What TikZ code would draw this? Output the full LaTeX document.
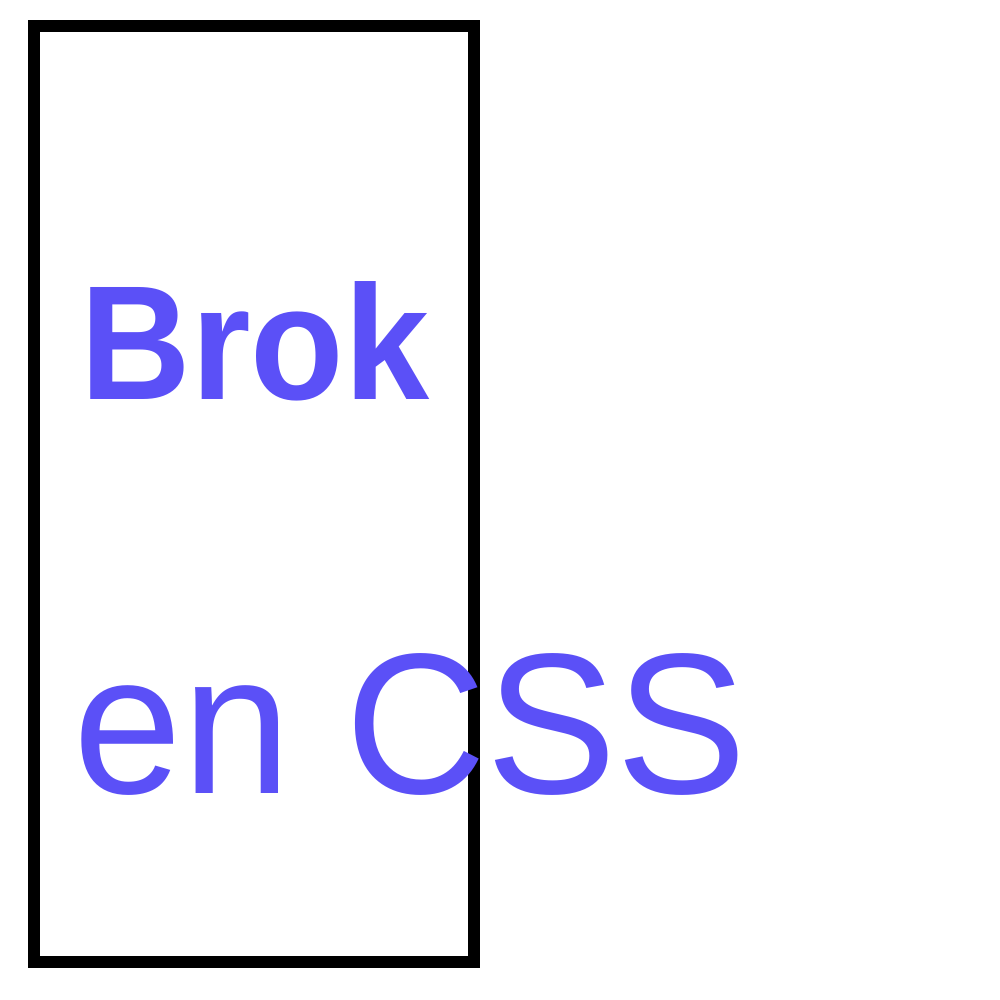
\documentclass[tikz,border=0pt]{standalone}
\usepackage{fontspec}
\setmainfont{Liberation Sans}
\definecolor{brand_purple}{HTML}{5B50F7}
\tikzstyle{title_line}=[anchor=base west,
                          inner sep=0pt,
                          transform shape,
                          text=brand_purple, ]
\tikzstyle{frame_box}=[draw=black,
                         line width=3.4pt,
                         miter limit=10, ]

\begin{document}
\begin{tikzpicture}[x=0.01cm, y=0.01cm]
  \useasboundingbox (0, 0) rectangle (1000, 1000);

  % Frame
  % -------------------------------------------------------------
  \draw[frame_box] (34, 974) rectangle (474, 38);

  % Title
  % -------------------------------------------------------------
  \node at (80, 600) (brok) [title_line, xscale=0.94, font=\fontsize{46.3}{50}\selectfont\bfseries] {Brok};
  \node at (73, 206) (css) [title_line, xscale=0.975, font=\fontsize{57}{60}\selectfont] {en CSS};
\end{tikzpicture}
\end{document}
